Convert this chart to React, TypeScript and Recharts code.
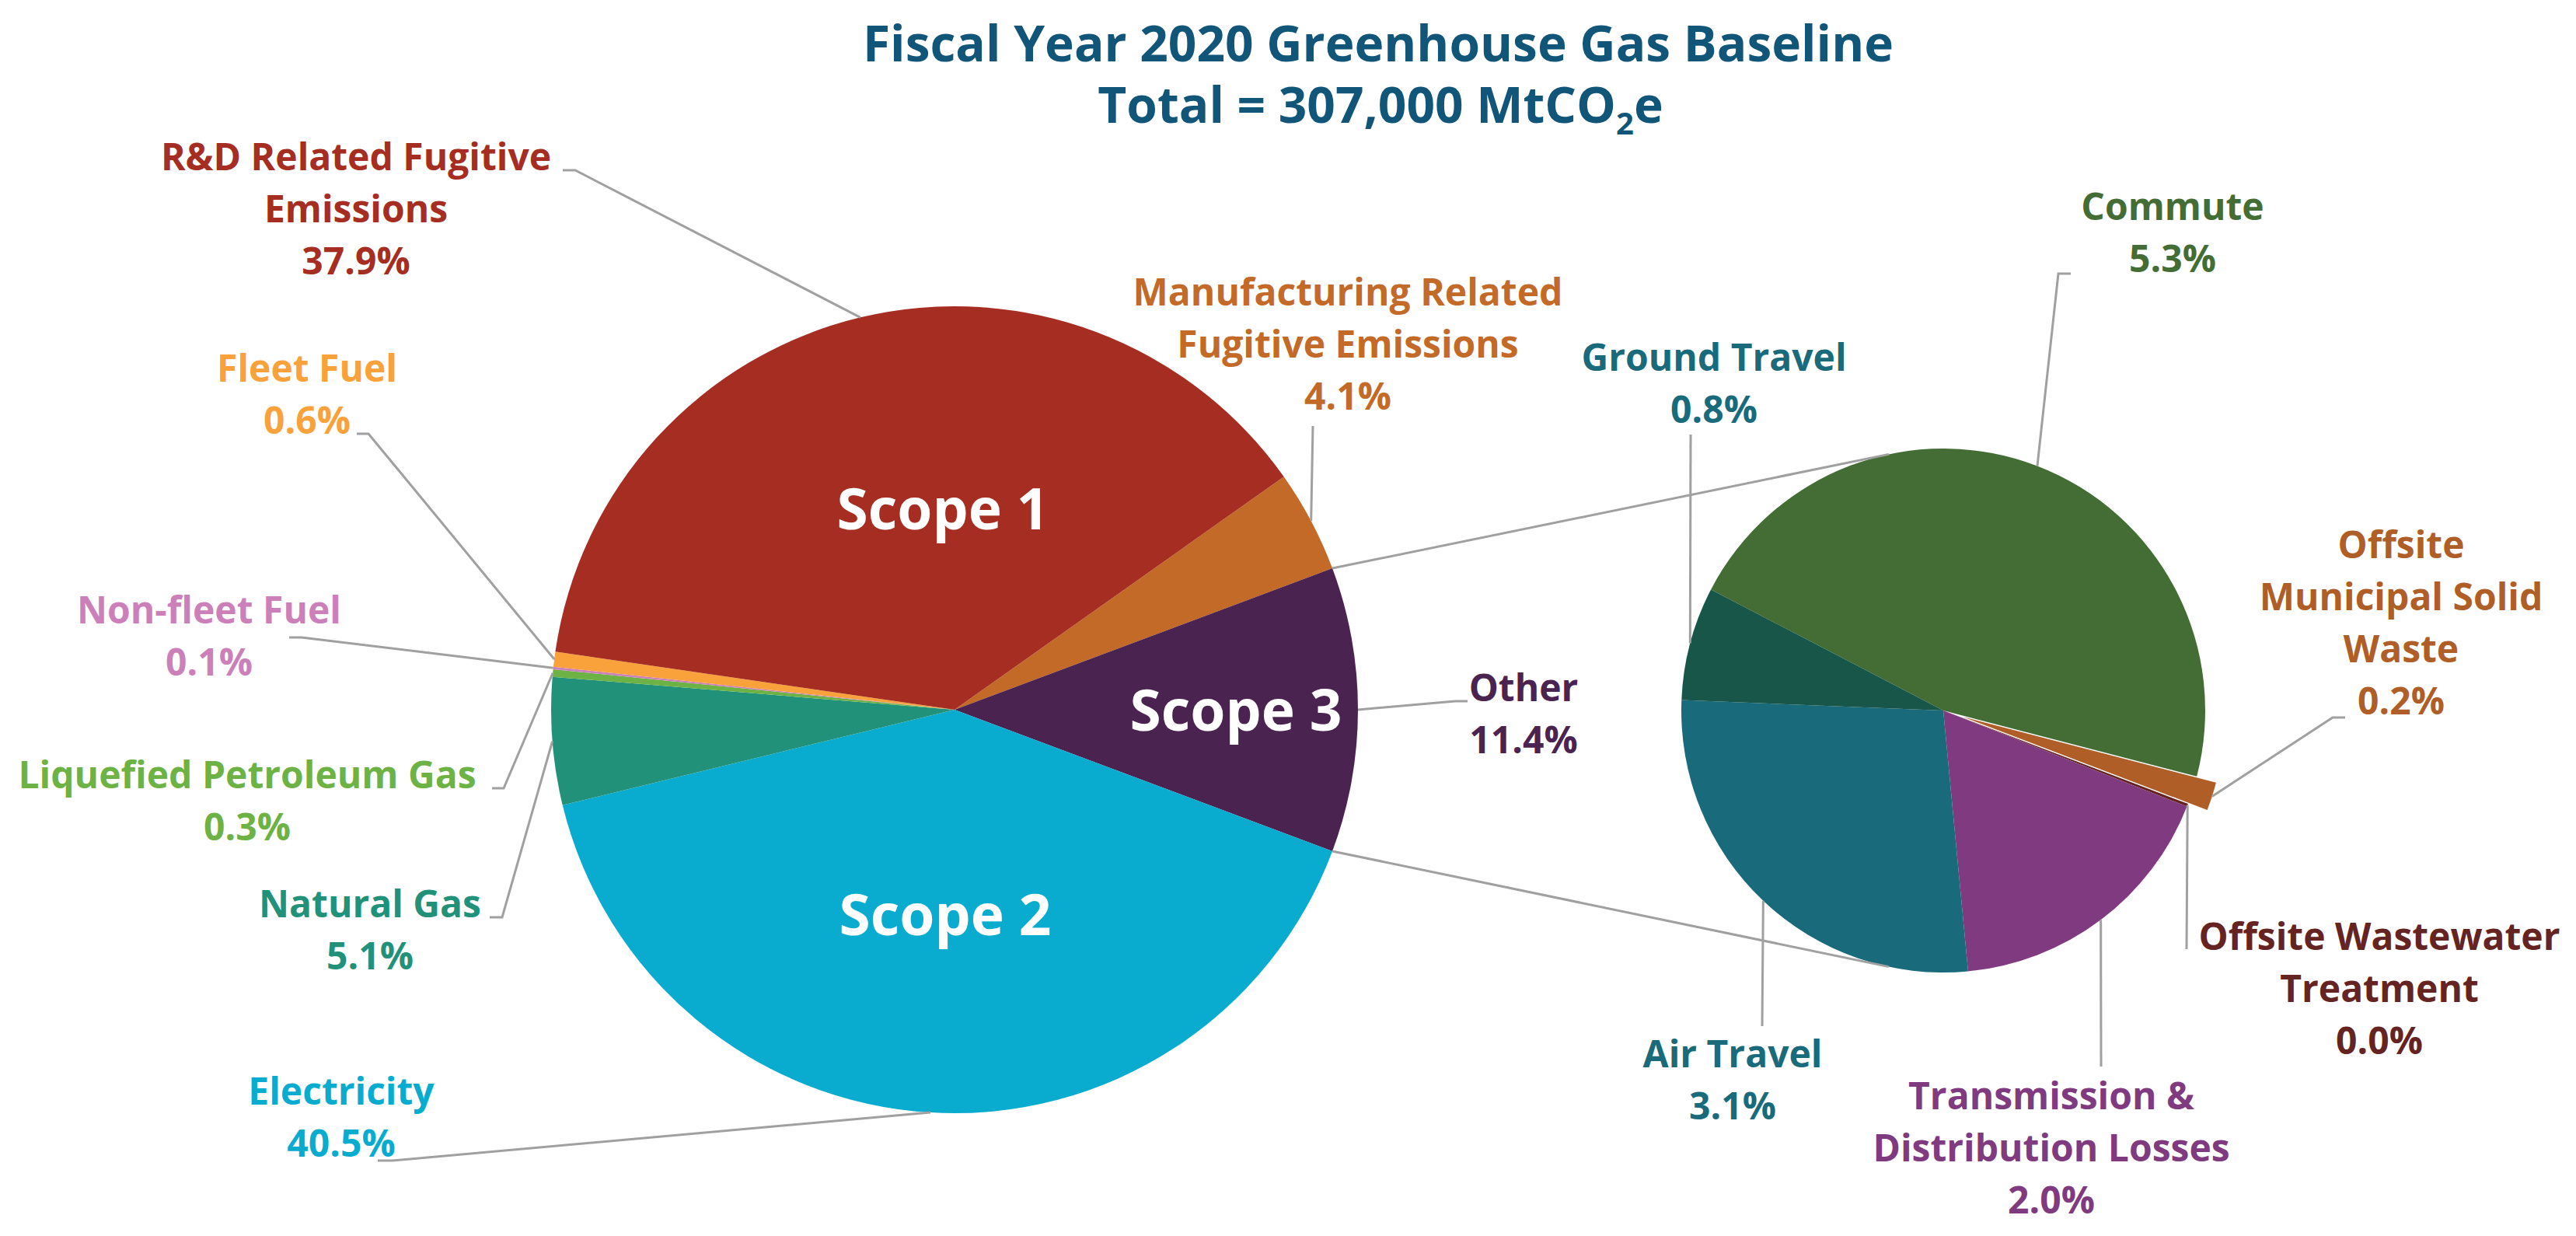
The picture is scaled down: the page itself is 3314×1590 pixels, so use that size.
import { Cell, Pie, PieChart } from "recharts";

const W = 3314;
const H = 1590;
const FONT = '"Open Sans", "Noto Sans", sans-serif';
const GREY = "#a0a0a0";
const TITLE_COLOR = "#115578";
const LINE = 67;
const LABEL_SIZE = 48;
const RADIAN = Math.PI / 180;

// primary pie, clockwise from the R&D / Manufacturing split
const LEFT_NAMES = [
  "Manufacturing Related\nFugitive Emissions",
  "Other",
  "Electricity",
  "Natural Gas",
  "Liquefied Petroleum Gas",
  "Non-fleet Fuel",
  "Fleet Fuel",
  "R&D Related Fugitive\nEmissions",
];
const LEFT_VALUES = [4.1, 11.4, 40.5, 5.1, 0.3, 0.1, 0.6, 37.9];
const LEFT_COLORS = ["#c46a29", "#4b2350", "#09accf", "#22917a", "#6cb245", "#cc80b9", "#f9a13a", "#a62d22"];
const LEFT_TEXT = ["#c46a29", "#4b2350", "#09accf", "#22917a", "#6cb245", "#cc80b9", "#f9a13a", "#a62d22"];

// breakdown of "Other" (scope 3), clockwise from the Ground Travel / Commute split
const RIGHT_NAMES = [
  "Commute",
  "Offsite\nMunicipal Solid\nWaste",
  "Offsite Wastewater\nTreatment",
  "Transmission &\nDistribution Losses",
  "Air Travel",
  "Ground Travel",
];
const RIGHT_VALUES = [5.3, 0.2, 0.02, 2.0, 3.1, 0.8];
const RIGHT_COLORS = ["#436d34", "#b05e27", "#652421", "#803a80", "#196a7b", "#175648"];
const RIGHT_TEXT = ["#436d34", "#b05e27", "#652421", "#803a80", "#196a7b", "#196a7b"];
const EXPLODED = 1; // Offsite Municipal Solid Waste is pulled out

const SCOPE_NAMES = ["Scope 1", "Scope 2", "Scope 3"];
const SCOPE_SLICE = [7, 2, 1];

// geometry
const LEFT = { cx: 1228, cy: 913, r: 519 };
const RIGHT = { cx: 2500, cy: 914, r: 337, start: 152.5, explode: 26 };
const CONNECT_ANGLE = 102;

// label placement: centre x, first baseline, leader points on the label side
const LEFT_LABELS = [
  { x: 1734, y: 393, leader: [[1689, 548]] },
  { x: 1960, y: 902, leader: [[1888, 902], [1872, 902]] },
  { x: 439, y: 1421, leader: [[486, 1493], [505, 1493]] },
  { x: 476, y: 1180, leader: [[630, 1180], [646, 1180]] },
  { x: 318, y: 1014, leader: [[633, 1014], [648, 1014]] },
  { x: 269, y: 802, leader: [[372, 820], [388, 820]] },
  { x: 395, y: 491, leader: [[459, 558], [474, 558]] },
  { x: 458, y: 219, leader: [[724, 219], [740, 219]] },
];
const RIGHT_LABELS = [
  { x: 2795, y: 283, leader: [[2664, 352], [2648, 352]] },
  { x: 3089, y: 718, leader: [[3017, 923], [3001, 923]] },
  { x: 3061, y: 1222, leader: [[2813, 1221]] },
  { x: 2639, y: 1427, leader: [[2703, 1372]] },
  { x: 2229, y: 1373, leader: [[2267, 1320]] },
  { x: 2205, y: 477, leader: [[2175, 559]] },
];
const SCOPE_LABELS = [
  { x: 1213, y: 681 },
  { x: 1216, y: 1203 },
  { x: 1590, y: 940 },
];

const sum = (a: number[]) => a.reduce((s, v) => s + v, 0);
const polar = (cx: number, cy: number, r: number, angle: number) => [
  cx + r * Math.cos(-angle * RADIAN),
  cy + r * Math.sin(-angle * RADIAN),
];

const leftData = LEFT_NAMES.map((name, i) => ({ name, value: LEFT_VALUES[i] }));
const rightData = RIGHT_NAMES.map((name, i) => ({ name, value: RIGHT_VALUES[i] }));

// "Other" sits centred on the horizontal axis
const leftStart = ((LEFT_VALUES[0] + LEFT_VALUES[1] / 2) / sum(LEFT_VALUES)) * 360;
const rightTotal = sum(RIGHT_VALUES);
const explodeMid =
  RIGHT.start -
  ((sum(RIGHT_VALUES.slice(0, EXPLODED)) + RIGHT_VALUES[EXPLODED] / 2) / rightTotal) * 360;
const [explodeCx, explodeCy] = polar(RIGHT.cx, RIGHT.cy, RIGHT.explode, explodeMid);

function LabelText({ x, y, lines, color, size = LABEL_SIZE }: any) {
  return (
    <text
      fill={color}
      fontFamily={FONT}
      fontSize={size}
      fontWeight={700}
      textAnchor="middle"
    >
      {lines.map((line: string, i: number) => (
        <tspan key={i} x={x} y={y + i * LINE}>
          {line}
        </tspan>
      ))}
    </text>
  );
}

function Leader({ points }: { points: number[][] }) {
  return (
    <polyline
      fill="none"
      points={points.map((p) => p.join(",")).join(" ")}
      stroke={GREY}
      strokeWidth={3}
    />
  );
}

function leftLabel(props: any) {
  const { cx, cy, outerRadius, midAngle, startAngle, endAngle, index, value, name } = props;
  const pos = LEFT_LABELS[index];
  const edge = polar(Number(cx), Number(cy), Number(outerRadius), midAngle);
  const scope = SCOPE_SLICE.indexOf(index);
  let connectors = null;
  if (index === 1) {
    const a = polar(Number(cx), Number(cy), Number(outerRadius), startAngle);
    const b = polar(Number(cx), Number(cy), Number(outerRadius), endAngle);
    const top = polar(RIGHT.cx, RIGHT.cy, RIGHT.r, CONNECT_ANGLE);
    const bottom = polar(RIGHT.cx, RIGHT.cy, RIGHT.r, -CONNECT_ANGLE);
    connectors = (
      <g>
        <Leader points={[a, top]} />
        <Leader points={[b, bottom]} />
      </g>
    );
  }
  return (
    <g key={`left-${index}`}>
      {connectors}
      <Leader points={[...pos.leader, edge]} />
      <LabelText
        color={LEFT_TEXT[index]}
        lines={[...String(name).split("\n"), `${Number(value).toFixed(1)}%`]}
        x={pos.x}
        y={pos.y}
      />
      {scope >= 0 && (
        <LabelText
          color="#ffffff"
          lines={[SCOPE_NAMES[scope]]}
          size={73}
          x={SCOPE_LABELS[scope].x}
          y={SCOPE_LABELS[scope].y}
        />
      )}
    </g>
  );
}

function rightLabel(props: any) {
  const { cx, cy, outerRadius, midAngle, index, value, name } = props;
  const pos = RIGHT_LABELS[index];
  const r = Number(outerRadius) + (index === EXPLODED ? RIGHT.explode : 0);
  const edge = polar(Number(cx), Number(cy), r, midAngle);
  return (
    <g key={`right-${index}`}>
      <Leader points={[...pos.leader, edge]} />
      <LabelText
        color={RIGHT_TEXT[index]}
        lines={[...String(name).split("\n"), `${Number(value).toFixed(1)}%`]}
        x={pos.x}
        y={pos.y}
      />
    </g>
  );
}

export default function App() {
  return (
    <div style={{ position: "absolute", left: 0, top: 0, width: W, height: H, background: "#fff" }}>
      <PieChart width={W} height={H} margin={{ top: 0, right: 0, bottom: 0, left: 0 }}>
        <Pie
          cx={LEFT.cx}
          cy={LEFT.cy}
          data={leftData}
          dataKey="value"
          endAngle={leftStart - 360}
          isAnimationActive={false}
          label={leftLabel}
          labelLine={false}
          outerRadius={LEFT.r}
          startAngle={leftStart}
          stroke="none"
        >
          {leftData.map((d, i) => (
            <Cell fill={LEFT_COLORS[i]} key={d.name} stroke="none" />
          ))}
        </Pie>
        <Pie
          cx={RIGHT.cx}
          cy={RIGHT.cy}
          data={rightData}
          dataKey="value"
          endAngle={RIGHT.start - 360}
          isAnimationActive={false}
          label={rightLabel}
          labelLine={false}
          outerRadius={RIGHT.r}
          startAngle={RIGHT.start}
          stroke="none"
        >
          {rightData.map((d, i) => (
            <Cell fill={i === EXPLODED ? "none" : RIGHT_COLORS[i]} key={d.name} stroke="none" />
          ))}
        </Pie>
        <Pie
          cx={explodeCx}
          cy={explodeCy}
          data={rightData}
          dataKey="value"
          endAngle={RIGHT.start - 360}
          isAnimationActive={false}
          labelLine={false}
          outerRadius={RIGHT.r}
          startAngle={RIGHT.start}
          stroke="none"
        >
          {rightData.map((d, i) => (
            <Cell fill={i === EXPLODED ? RIGHT_COLORS[i] : "none"} key={d.name} stroke="none" />
          ))}
        </Pie>
      </PieChart>
      <svg
        height={200}
        style={{ position: "absolute", left: 0, top: 0, pointerEvents: "none" }}
        width={W}
      >
        <text
          fill={TITLE_COLOR}
          fontFamily={FONT}
          fontSize={64}
          fontWeight={700}
          textAnchor="middle"
          x={1773}
          y={79}
        >
          Fiscal Year 2020 Greenhouse Gas Baseline
        </text>
        <text
          fill={TITLE_COLOR}
          fontFamily={FONT}
          fontSize={64}
          fontWeight={700}
          textAnchor="middle"
          x={1776}
          y={158}
        >
          Total = 307,000 MtCO
          <tspan dy={15} fontSize={40}>
            2
          </tspan>
          <tspan dy={-15}>e</tspan>
        </text>
      </svg>
    </div>
  );
}
